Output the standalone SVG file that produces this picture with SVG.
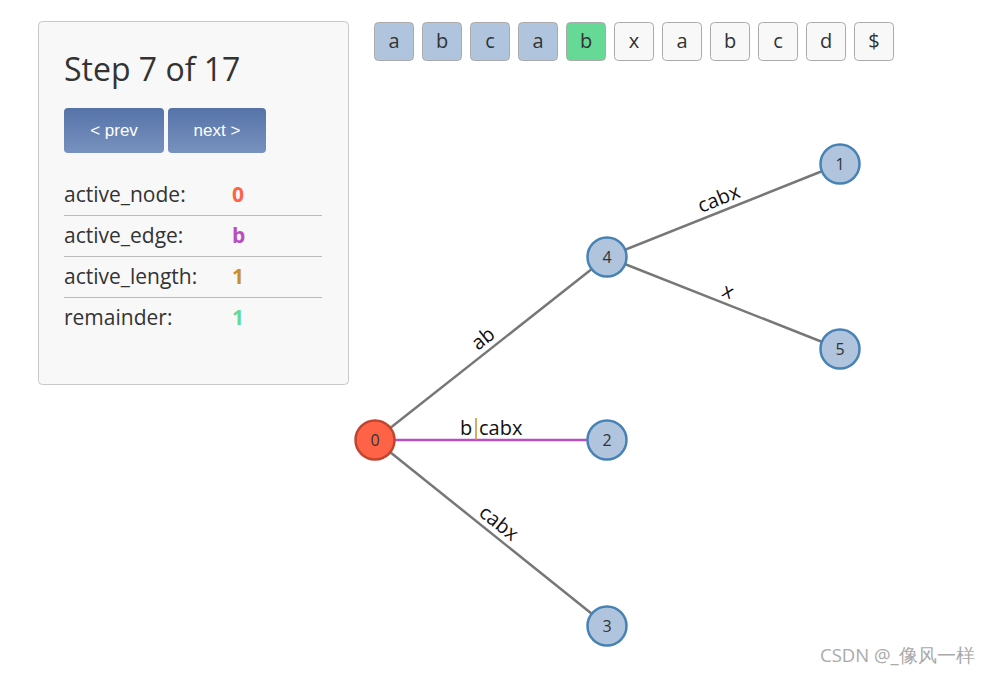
<svg xmlns="http://www.w3.org/2000/svg" width="992" height="674" viewBox="0 0 992 674">
<defs>
<linearGradient id="btn" x1="0" y1="0" x2="0" y2="1"><stop offset="0" stop-color="#5673a8"/><stop offset="1" stop-color="#7892bf"/></linearGradient>
<style>
text{font-family:"Open Sans","Noto Sans","DejaVu Sans",sans-serif;}
.lbl{font-size:21px;fill:#333;}
.val{font-size:21px;font-weight:bold;}
.sep{stroke:#bbb;stroke-width:1;}
.box{stroke:#aaa;stroke-width:1;}
.ch{font-size:20px;fill:#333;text-anchor:middle;}
.btxt{font-family:"Liberation Sans",Arial,sans-serif;font-size:17px;fill:#fff;text-anchor:middle;}
.edge{stroke:#777;stroke-width:2.5;fill:none;}
.elbl{font-size:20px;fill:#111;text-anchor:middle;}
.node{fill:#b0c4de;stroke:#4682b4;stroke-width:2.5;}
.ntxt{font-size:16px;fill:#333;text-anchor:middle;}
</style>
</defs>
<rect width="992" height="674" fill="#fff"/>
<g id="panel">
<rect x="38.5" y="21.5" width="310" height="363" rx="4" fill="#f8f8f8" stroke="#c8c8c8"/>
<text x="64" y="81" font-size="32" fill="#333">Step 7 of 17</text>
<rect x="64" y="108" width="100" height="45" rx="4" fill="url(#btn)"/>
<text class="btxt" x="114" y="136">&lt; prev</text>
<rect x="168" y="108" width="98" height="45" rx="4" fill="url(#btn)"/>
<text class="btxt" x="217" y="136">next &gt;</text>
<text class="lbl" x="64" y="202">active_node:</text><text class="val" x="232" y="202" fill="#ff6347">0</text>
<line class="sep" x1="64" y1="215.5" x2="322" y2="215.5"/>
<text class="lbl" x="64" y="243">active_edge:</text><text class="val" x="232" y="243" fill="#b84fc0">b</text>
<line class="sep" x1="64" y1="256.5" x2="322" y2="256.5"/>
<text class="lbl" x="64" y="284">active_length:</text><text class="val" x="232" y="284" fill="#c8902a">1</text>
<line class="sep" x1="64" y1="297.5" x2="322" y2="297.5"/>
<text class="lbl" x="64" y="325">remainder:</text><text class="val" x="232" y="325" fill="#66d997">1</text>
</g>
<g id="string">
<rect class="box" x="374.5" y="22.5" width="39" height="38" rx="4" fill="#b0c4de"/><text class="ch" x="394" y="48">a</text>
<rect class="box" x="422.5" y="22.5" width="39" height="38" rx="4" fill="#b0c4de"/><text class="ch" x="442" y="48">b</text>
<rect class="box" x="470.5" y="22.5" width="39" height="38" rx="4" fill="#b0c4de"/><text class="ch" x="490" y="48">c</text>
<rect class="box" x="518.5" y="22.5" width="39" height="38" rx="4" fill="#b0c4de"/><text class="ch" x="538" y="48">a</text>
<rect class="box" x="566.5" y="22.5" width="39" height="38" rx="4" fill="#66d997"/><text class="ch" x="586" y="48">b</text>
<rect class="box" x="614.5" y="22.5" width="39" height="38" rx="4" fill="#f8f8f8"/><text class="ch" x="634" y="48">x</text>
<rect class="box" x="662.5" y="22.5" width="39" height="38" rx="4" fill="#f8f8f8"/><text class="ch" x="682" y="48">a</text>
<rect class="box" x="710.5" y="22.5" width="39" height="38" rx="4" fill="#f8f8f8"/><text class="ch" x="730" y="48">b</text>
<rect class="box" x="758.5" y="22.5" width="39" height="38" rx="4" fill="#f8f8f8"/><text class="ch" x="778" y="48">c</text>
<rect class="box" x="806.5" y="22.5" width="39" height="38" rx="4" fill="#f8f8f8"/><text class="ch" x="826" y="48">d</text>
<rect class="box" x="854.5" y="22.5" width="39" height="38" rx="4" fill="#f8f8f8"/><text class="ch" x="874" y="48">$</text>
</g>
<g id="connectors">
<line class="edge" x1="375" y1="440" x2="607" y2="257"/>
<line class="edge" x1="607" y1="257" x2="840" y2="164"/>
<line class="edge" x1="607" y1="257" x2="840" y2="349"/>
<line class="edge" x1="375" y1="440" x2="607" y2="626"/>
<line x1="375" y1="440" x2="607" y2="440" stroke="#b84fc0" stroke-width="2.5"/>
<text class="elbl" transform="translate(491,348.5) rotate(-38.3)" y="-6">ab</text>
<text class="elbl" transform="translate(723.5,210.5) rotate(-21.8)" y="-6">cabx</text>
<text class="elbl" transform="translate(723.5,303) rotate(21.5)" y="-6">x</text>
<text class="elbl" transform="translate(491,533) rotate(38.7)" y="-6">cabx</text>
<text x="460" y="435" font-size="20" fill="#111">b</text>
<line x1="476" y1="418" x2="476" y2="440" stroke="#c8902a" stroke-width="1.5"/>
<text x="479" y="435" font-size="20" fill="#111">cabx</text>
</g>
<g id="node0"><circle cx="375" cy="440" r="19.5" fill="#ff6347" stroke="#c0452f" stroke-width="2.5"/><text class="ntxt" x="375" y="446">0</text></g>
<g id="node4"><circle class="node" cx="607" cy="257" r="19.5"/><text class="ntxt" x="607" y="263">4</text></g>
<g id="node1"><circle class="node" cx="840" cy="164" r="19.5"/><text class="ntxt" x="840" y="170">1</text></g>
<g id="node5"><circle class="node" cx="840" cy="349" r="19.5"/><text class="ntxt" x="840" y="355">5</text></g>
<g id="node2"><circle class="node" cx="607" cy="440" r="19.5"/><text class="ntxt" x="607" y="446">2</text></g>
<g id="node3"><circle class="node" cx="607" cy="626" r="19.5"/><text class="ntxt" x="607" y="632">3</text></g>
<text x="820" y="662" font-size="18.5" fill="#aaa" font-family="'Liberation Sans','Noto Sans CJK SC',sans-serif">CSDN @_像风一样</text>
</svg>
